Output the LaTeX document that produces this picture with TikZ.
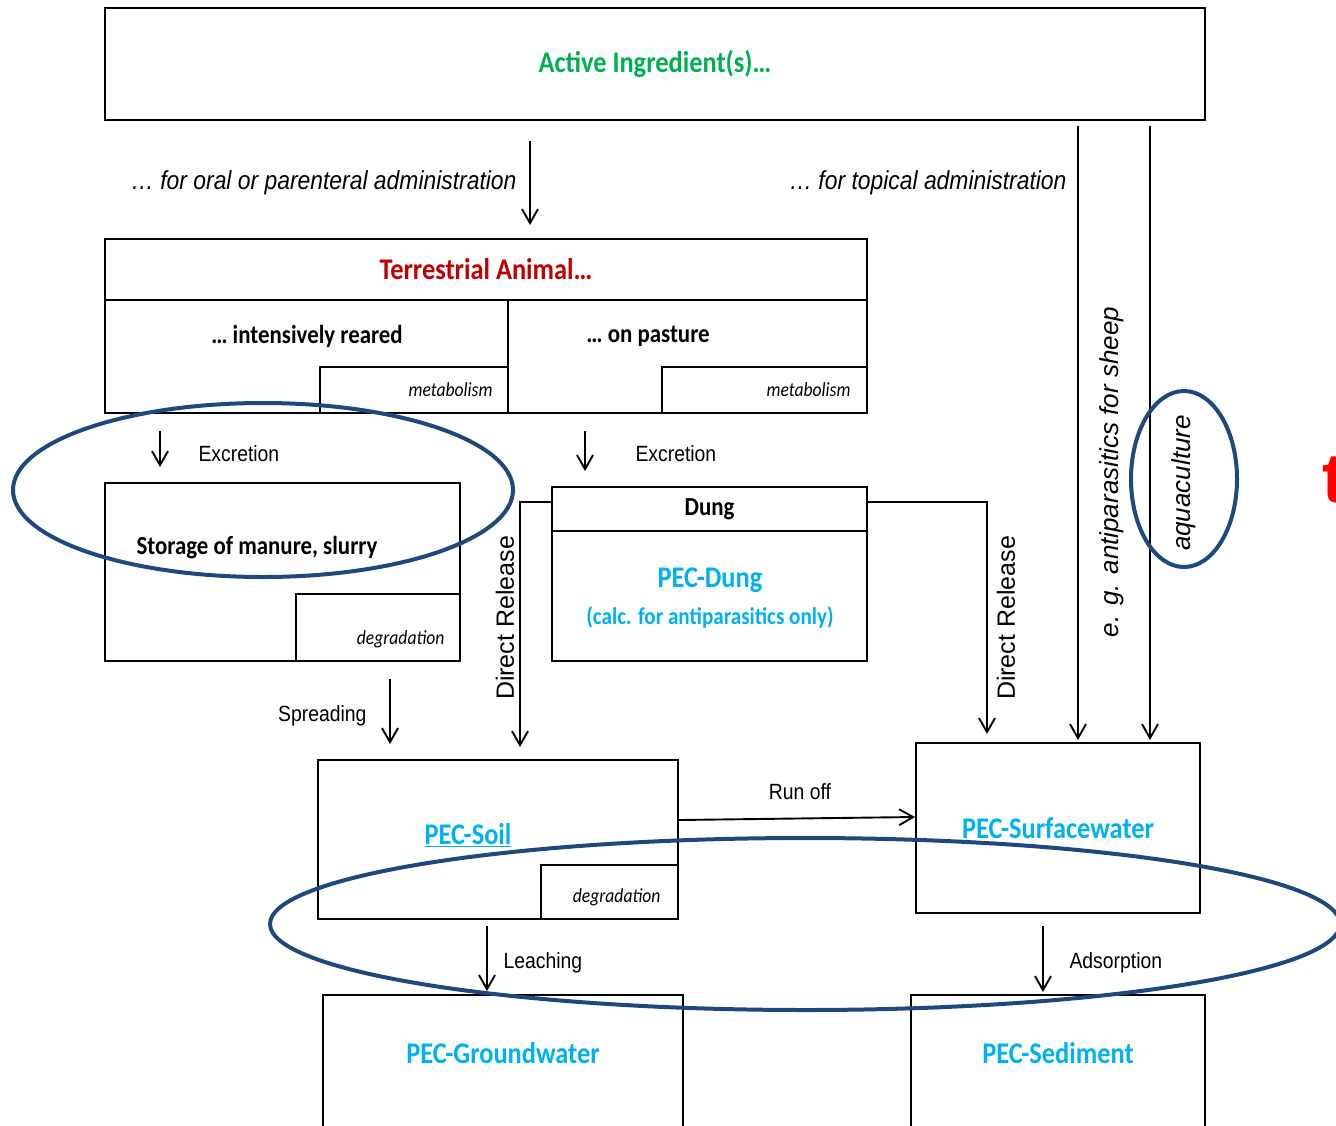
\documentclass[tikz,border=0pt]{standalone}
\usepackage{fontspec}
\usepackage{tikz}
\usetikzlibrary{arrows.meta}
\newfontfamily\calfont{Carlito}[FakeStretch=0.88]
\newfontfamily\arfont{Liberation Sans}[FakeStretch=0.88]
\newfontfamily\arrotfont{Liberation Sans}
\definecolor{aigreen}{RGB}{0,176,80}
\definecolor{tared}{RGB}{192,0,0}
\definecolor{peccyan}{RGB}{0,176,240}
\definecolor{ringblue}{RGB}{31,73,125}

\begin{document}
\begin{tikzpicture}[x=1pt,y=-1pt,
  box/.style={draw,line width=2pt,rectangle,inner sep=0pt},
  arr/.style={line width=1.9pt,-{Straight Barb[length=14pt,width=16pt]}},
  ttl/.style={font=\calfont\bfseries\fontsize{30}{36}\selectfont},
  subt/.style={font=\calfont\bfseries\fontsize{26}{31}\selectfont},
  sml/.style={font=\calfont\itshape\fontsize{20}{24}\selectfont},
  lbl/.style={font=\arfont\fontsize{22}{26}\selectfont},
  adm/.style={font=\arfont\itshape\fontsize{26}{31}\selectfont},
  rot/.style={font=\arrotfont\fontsize{25}{30}\selectfont,rotate=90},
  rotit/.style={font=\arrotfont\itshape\fontsize{26}{31}\selectfont,rotate=90},
  ring/.style={draw=ringblue,line width=4pt}]
\useasboundingbox (0,0) rectangle (1336,1125);
\clip (0,0) rectangle (1336,1125);
% Wirkstoff
\node[box,ttl,text=aigreen,minimum width=1100pt,minimum height=112pt] (ai) at (655,64) {Active Ingredient(s)…};
\node[adm,anchor=east] (oral) at (520,183) {… for oral or parenteral administration};
\node[adm,anchor=east] (topic) at (1070,183) {… for topical administration};
% Tier
\node[box,ttl,text=tared,minimum width=762pt,minimum height=61pt] (ta) at (486,269.5) {Terrestrial Animal…};
\node[box,minimum width=403pt,minimum height=113pt] (int) at (306.5,356.5) {};
\node[box,minimum width=359pt,minimum height=113pt] (pas) at (687.5,356.5) {};
\node[box,minimum width=188pt,minimum height=46pt] (met1) at (414,390) {};
\node[box,minimum width=205pt,minimum height=46pt] (met2) at (764.5,390) {};
\node[subt] (intt) at (307,336) {… intensively reared};
\node[subt] (past) at (648,336) {… on pasture};
\node[sml,anchor=east] (met1t) at ([xshift=-13pt]met1.east) {metabolism};
\node[sml,anchor=east] (met2t) at ([xshift=-14pt]met2.east) {metabolism};
% Lager und Dung
\node[box,minimum width=355pt,minimum height=178pt] (sto) at (282.5,572) {};
\node[box,minimum width=164pt,minimum height=67pt] (deg1) at (378,627.5) {};
\node[subt] (stot) at (257,548) {Storage of manure, slurry};
\node[sml,anchor=east] (deg1t) at ([xshift=-13pt,yshift=-12pt]deg1.east) {degradation};
\node[box,subt,minimum width=315pt,minimum height=44pt] (dung) at (709.5,509) {Dung};
\node[box,minimum width=315pt,minimum height=130pt] (pecd) at (709.5,596) {};
\node[ttl,text=peccyan] (pecdt) at (710,580) {PEC-Dung};
\node[font=\calfont\bfseries\fontsize{24}{29}\selectfont,text=peccyan] (calc) at (710,617) {(calc. for antiparasitics only)};
% Umweltkompartimente
\node[box,minimum width=360pt,minimum height=159pt] (soil) at (498,839.5) {};
\node[box,minimum width=137pt,minimum height=54pt] (deg2) at (609.5,892) {};
\node[ttl,text=peccyan] (soilt) at (468,835) {\underline{PEC-Soil}};
\node[sml,anchor=east] (deg2t) at ([xshift=-15pt,yshift=-5pt]deg2.east) {degradation};
\node[box,ttl,text=peccyan,minimum width=284pt,minimum height=170pt] (surf) at (1058,828) {PEC-Surfacewater};
\node[box,minimum width=360pt,minimum height=145pt] (ground) at (503,1067.5) {};
\node[box,minimum width=294pt,minimum height=145pt] (sed) at (1058,1067.5) {};
\node[ttl,text=peccyan] (groundt) at (503,1053) {PEC-Groundwater};
\node[ttl,text=peccyan] (sedt) at (1058,1053) {PEC-Sediment};
% Pfeile
\draw[arr,shorten <=20pt,shorten >=13pt] ([xshift=-125pt]ai.south) -- ([xshift=44pt]ta.north);
\draw[arr,shorten <=5pt,shorten >=2pt] ([xshift=423pt]ai.south) -- ([xshift=20pt]surf.north);
\draw[arr,shorten <=5pt,shorten >=2pt] ([xshift=495pt]ai.south) -- ([xshift=92pt]surf.north);
\node[rotit] (sheep) at (1112,472) {e. g. antiparasitics for sheep};
\node[rotit] (aqua) at (1184,483) {aquaculture};
\draw[arr,shorten <=17pt,shorten >=15pt] ([xshift=-146.5pt]int.south) -- ([xshift=-122.5pt]sto.north);
\node[lbl,anchor=west] (exc1) at (195,454) {Excretion};
\draw[arr,shorten <=17pt,shorten >=15pt] ([xshift=-102.5pt]pas.south) -- ([xshift=-124.5pt]dung.north);
\node[lbl,anchor=west] (exc2) at (632,454) {Excretion};
\draw[arr,shorten >=12pt] ([yshift=7pt]dung.west) -| ([xshift=22pt]soil.north);
\node[rot] (dr1) at (505,618) {Direct Release};
\draw[arr,shorten >=8pt] ([yshift=7pt]dung.east) -| ([xshift=-71pt]surf.north);
\node[rot] (dr2) at (1006,618) {Direct Release};
\draw[arr,shorten <=17pt,shorten >=15pt] ([xshift=107.5pt]sto.south) -- ([xshift=-108pt]soil.north);
\node[lbl,anchor=east] (spr) at (370,716) {Spreading};
\draw[arr] ([yshift=19.5pt]soil.east) -- ([yshift=11pt]surf.west);
\node[lbl] (run) at (800,792) {Run off};
\draw[arr,shorten <=6pt,shorten >=3pt] ([xshift=-11pt]soil.south) -- ([xshift=-16pt]ground.north);
\node[lbl,anchor=west] (lea) at (500,963) {Leaching};
\draw[arr,shorten <=12pt,shorten >=2pt] ([xshift=-15pt]surf.south) -- ([xshift=-15pt]sed.north);
\node[lbl,anchor=west] (ads) at (1066,963) {Adsorption};
% Markierungen
\node[font=\arrotfont\bfseries\fontsize{70}{80}\selectfont,text=red,anchor=west,inner sep=0pt] (tt) at (1322,480) {t};
\draw[ring] (263,490) ellipse [x radius=250pt,y radius=87pt];
\draw[ring] (805,924) ellipse [x radius=535pt,y radius=86pt];
\draw[ring] (1184,479) ellipse [x radius=53pt,y radius=88pt];
\end{tikzpicture}
\end{document}
